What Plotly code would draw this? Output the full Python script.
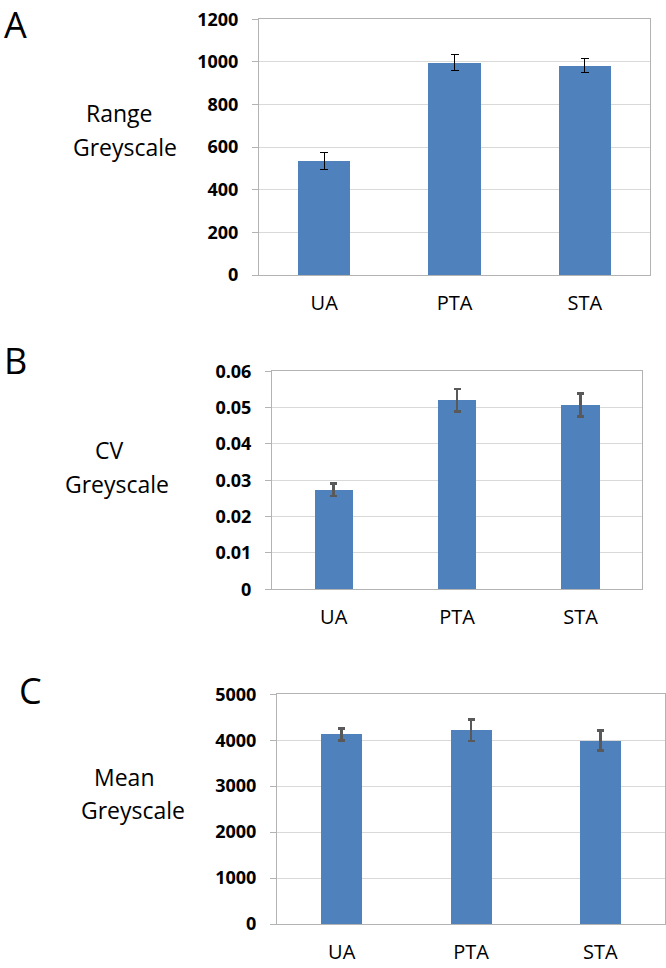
import plotly.graph_objects as go

categories = ["UA", "PTA", "STA"]

range_vals = [535, 997, 983]
range_err = [40, 36, 34]

cv_vals = [0.0274, 0.0520, 0.0507]
cv_err = [0.0017, 0.0031, 0.0032]

mean_vals = [4125, 4217, 3993]
mean_err = [130, 235, 220]

W, H = 666, 968
BAR = "#4F81BD"
GRID = "#D9D9D9"
BORDER = "#B3B3B3"
FONT = "Open Sans"


def px_x(v):
    return v / W


def px_y(v):
    return 1 - v / H


fig = go.Figure()

panels = [
    dict(vals=range_vals, err=range_err, width=0.4, ecol="#000000", eth=1, ew=4,
         xd=[259, 650], yd=[19.3, 275], rng=[0, 1200], dt=200, ax="", letter="A",
         lx=15, ly=25, title=["Range", "Greyscale"], tx=[119, 125], ty=[113, 147]),
    dict(vals=cv_vals, err=cv_err, width=0.31, ecol="#595959", eth=2.5, ew=3.5,
         xd=[272, 642.3], yd=[371.2, 589.3], rng=[0, 0.06], dt=0.01, ax="2", letter="B",
         lx=15, ly=360, title=["CV", "Greyscale"], tx=[109, 117], ty=[450, 484]),
    dict(vals=mean_vals, err=mean_err, width=0.317, ecol="#595959", eth=2.5, ew=3.5,
         xd=[277, 665], yd=[694.3, 924], rng=[0, 5000], dt=1000, ax="3", letter="C",
         lx=30, ly=690, title=["Mean", "Greyscale"], tx=[124, 133], ty=[777, 810]),
]

annotations = []
for p in panels:
    fig.add_trace(go.Bar(
        x=categories, y=p["vals"], width=p["width"],
        marker=dict(color=BAR, line=dict(width=0)),
        error_y=dict(type="data", array=p["err"], visible=True,
                     color=p["ecol"], thickness=p["eth"], width=p["ew"]),
        xaxis="x" + p["ax"], yaxis="y" + p["ax"], showlegend=False,
    ))
    xa = dict(
        domain=[px_x(p["xd"][0]), px_x(p["xd"][1])],
        anchor="y" + p["ax"], showline=True, mirror=True, linecolor=BORDER,
        linewidth=1, ticks="", showgrid=False, fixedrange=True, automargin=False,
        tickfont=dict(family=FONT, size=20, color="#000000"),
        ticklabelstandoff=10,
    )
    ya = dict(
        domain=[px_y(p["yd"][1]), px_y(p["yd"][0])],
        anchor="x" + p["ax"], range=p["rng"], dtick=p["dt"], tick0=0,
        showline=True, mirror=True, linecolor=BORDER, linewidth=1,
        showgrid=True, gridcolor=GRID, gridwidth=1, zeroline=False,
        ticks="outside", ticklen=6, tickcolor=BORDER, automargin=False,
        tickfont=dict(family=FONT, size=18, color="#000000", weight="bold"),
        ticklabelstandoff=10, fixedrange=True,
    )
    key = p["ax"] if p["ax"] else ""
    fig.update_layout(**{"xaxis" + key: xa, "yaxis" + key: ya})
    annotations.append(dict(
        text=p["letter"], x=px_x(p["lx"]), y=px_y(p["ly"]), xref="paper", yref="paper",
        xanchor="center", yanchor="middle", showarrow=False, borderpad=0,
        font=dict(family=FONT, size=36, color="#000000"),
    ))
    for t, x, y in zip(p["title"], p["tx"], p["ty"]):
        annotations.append(dict(
            text=t, x=px_x(x), y=px_y(y), xref="paper", yref="paper",
            xanchor="center", yanchor="middle", showarrow=False,
            font=dict(family=FONT, size=23, color="#000000"),
        ))

fig.update_layout(
    width=W, height=H, margin=dict(l=0, r=0, t=0, b=0, autoexpand=False),
    paper_bgcolor="white", plot_bgcolor="white",
    annotations=annotations, bargap=0, hovermode=False,
)

fig.write_html(
    "out.html",
    config={"displayModeBar": False, "staticPlot": True},
    post_script="document.body.style.margin='0';document.body.style.overflow='hidden';",
)
